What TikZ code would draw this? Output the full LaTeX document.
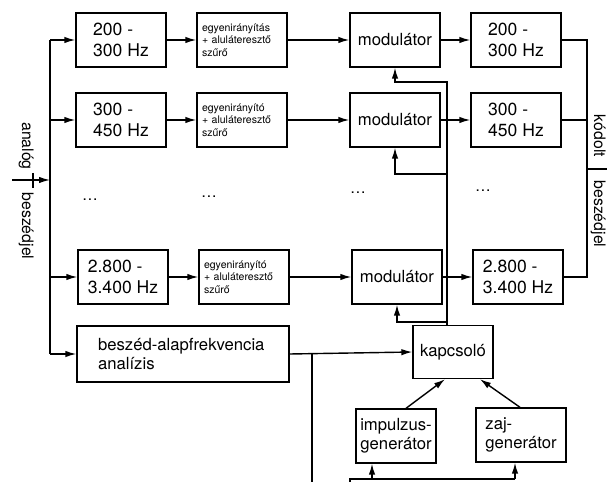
\documentclass[tikz,border=0pt]{standalone}
\usepackage{fontspec}
\setmainfont{TeX Gyre Heros}
\usetikzlibrary{calc,arrows.meta}

\tikzset{
  blk/.style={draw, line width=0.8pt, minimum width=1.8cm, minimum height=1.08cm, inner sep=0pt, align=left, font=\fontsize{9.5}{11}\selectfont},
  bandbox/.style={blk, font=\fontsize{10}{11.5}\selectfont},
  filtbox/.style={blk, text width=1.6cm, font=\fontsize{6}{7}\selectfont},
  wire/.style={line width=0.8pt},
  arr/.style={wire, -{Latex[length=2.2mm,width=1.3mm]}},
  lbl/.style={font=\fontsize{9}{11}\selectfont, inner sep=0pt},
}

\begin{document}
\begin{tikzpicture}[x=0.02cm, y=-0.02cm]
  %%%%% START %%%%%
  \useasboundingbox (0,0) rectangle (607,482);

  % input side
  \node[lbl, rotate=-90, anchor=base] (l1) at (22,146) {analóg};
  \node[lbl, rotate=-90, anchor=base] (l2) at (22,226) {beszédjel};
  \draw[wire] (33,173) -- (33,188);
  \coordinate (in) at (12,180);
  \coordinate (bus) at (50,180);

  % band filters
  \node[bandbox] (B1) at (121,40) {200 -\\300 Hz};
  \node[bandbox] (B2) at (121,120) {300 -\\450 Hz};
  \node[bandbox] (B3) at (123,277) {2.800 -\\3.400 Hz};

  % rectifier + low pass
  \node[filtbox] (F1) at (242,40) {egyenirányítás\\+ aluláteresztő\\szűrő};
  \node[filtbox] (F2) at (242,120) {egyenirányító\\+ aluláteresztő\\szűrő};
  \node[filtbox] (F3) at (244,277) {egyenirányító\\+ aluláteresztő\\szűrő};

  % modulators
  \node[blk] (M1) at (395,40) {modulátor};
  \node[blk] (M2) at (395,120) {modulátor};
  \node[blk] (M3) at (397,277) {modulátor};

  % output band filters
  \node[bandbox] (O1) at (516,40) {200 -\\300 Hz};
  \node[bandbox] (O2) at (516,120) {300 -\\450 Hz};
  \node[bandbox] (O3) at (518,277) {2.800 -\\3.400 Hz};

  % dots
  \node[lbl] (d1) at (90,200) {\dots};
  \node[lbl] (d2) at (209,197) {\dots};
  \node[lbl] (d3) at (358,193) {\dots};
  \node[lbl] (d4) at (483,191) {\dots};

  % pitch analysis, switch, generators
  \node[blk, minimum width=4.24cm, minimum height=1.12cm, text width=3.4cm] (A) at (183,354) {beszéd-alapfrekvencia\\analízis};
  \node[blk, minimum width=1.6cm, minimum height=1.06cm, align=center] (K) at (453,352) {kapcsoló};
  \node[blk, minimum width=1.6cm, minimum height=1.08cm, align=center] (I) at (396,436) {impulzus-\\generátor};
  \node[blk, minimum width=1.8cm, minimum height=1.08cm] (Z) at (521,435) {zaj-\\generátor};

  % left bus
  \draw[arr] (in) -- (bus);
  \draw[wire] (bus |- B1.west) -- (bus |- A.west);
  \foreach \n in {B1,B2,B3,A}
    \draw[arr] (bus |- \n.west) -- (\n.west);

  % rows
  \foreach \i in {1,2,3} {
    \draw[arr] (B\i.east) -- (F\i.west);
    \draw[arr] (F\i.east) -- (M\i.west);
    \draw[arr] (M\i.east) -- (O\i.west);
  }

  % switch output to the modulators
  \coordinate (t1) at (447,82);
  \coordinate (t2) at (447,174);
  \coordinate (t3) at (447,322);
  \draw[arr] (K.north -| t1) -- (t1) -| (M1.south);
  \draw[arr] (t2) -| (M2.south);
  \draw[arr] (t3) -| (M3.south);

  % analysis to switch and generators
  \draw[arr] (A.east) -- (K.west);
  \coordinate (br) at (312,354);
  \coordinate (g1) at (372,479);
  \coordinate (g2) at (515,479);
  \draw[wire] (br) -- (312,495) -| (350,479) -- (g2);
  \draw[arr] (g1) -- (g1 |- I.south);
  \draw[arr] (g2) -- (g2 |- Z.south);
  \draw[arr] ($(I.north)+(10,0)$) -- ($(K.south)+(-8,0)$);
  \draw[arr] ($(Z.north)+(-1,0)$) -- ($(K.south)+(27,0)$);

  % output bus
  \coordinate (rb) at (587,169);
  \draw[wire] (O1.east) -- (O1.east -| rb) -- (O3.east -| rb) -- (O3.east);
  \draw[wire] (O2.east) -- (O2.east -| rb);
  \draw[wire] (rb) -- ++(30,0);
  \node[lbl, rotate=-90, anchor=base] (r1) at (594,136) {kódolt};
  \node[lbl, rotate=-90, anchor=base] (r2) at (594,214) {beszédjel};

  %%%%% END %%%%%
\end{tikzpicture}
\end{document}
